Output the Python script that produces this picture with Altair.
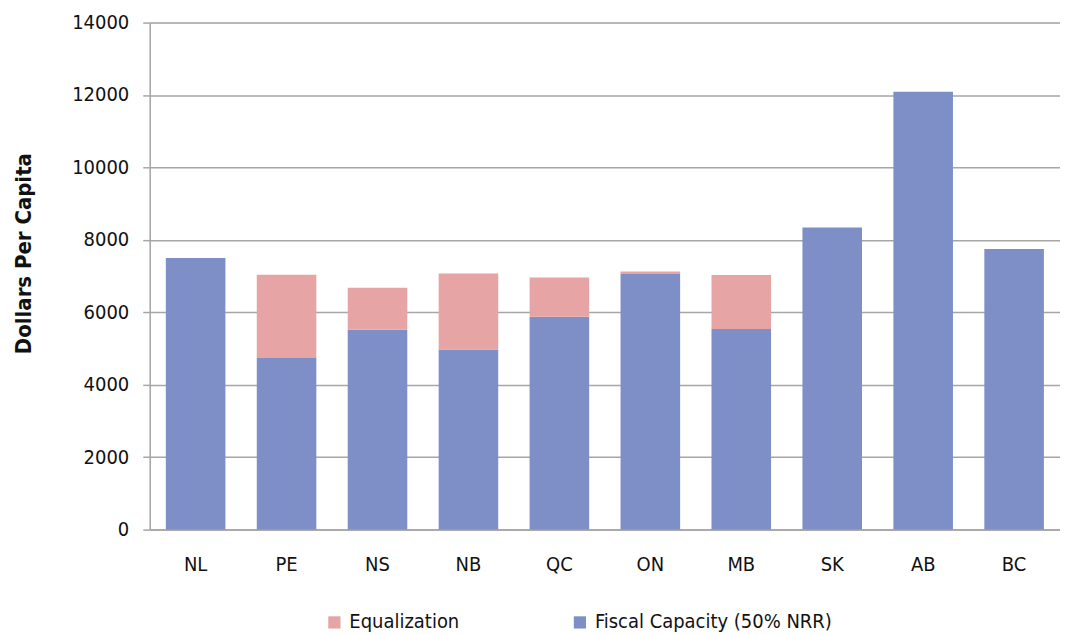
import altair as alt
import pandas as pd

provinces = ["NL", "PE", "NS", "NB", "QC", "ON", "MB", "SK", "AB", "BC"]
fiscal_capacity = [7500, 4740, 5520, 4970, 5880, 7060, 5540, 8340, 12090, 7750]
equalization = [0, 2300, 1160, 2100, 1080, 70, 1490, 0, 0, 0]

series_names = ["Equalization", "Fiscal Capacity (50% NRR)"]
series_colors = ["#e6a4a4", "#7d8fc6"]

rows = []
for p, f, e in zip(provinces, fiscal_capacity, equalization):
    rows.append({"prov": p, "series": series_names[1], "value": f, "order": 0})
    rows.append({"prov": p, "series": series_names[0], "value": e, "order": 1})
df = pd.DataFrame(rows)

FONT = "'DejaVu Sans Condensed', 'Liberation Sans Narrow', 'Roboto Condensed', 'Liberation Sans'"

chart = alt.Chart(df).mark_bar().encode(
    x=alt.X("prov:N", sort=provinces,
            scale=alt.Scale(paddingInner=0.345, paddingOuter=0.177),
            axis=alt.Axis(title=None, labelAngle=0, labelFontSize=20, labelFont=FONT,
                          labelColor="#111", labelPadding=25, ticks=False,
                          domainColor="#a6a6a6", domainWidth=1.5)),
    y=alt.Y("value:Q", stack="zero",
            scale=alt.Scale(domain=[0, 14000], nice=False),
            axis=alt.Axis(title="Dollars Per Capita", values=list(range(0, 14001, 2000)),
                          format="d",
                          titleFontSize=22, titleFont=FONT, titleFontWeight="bold",
                          titleColor="#111", titlePadding=14, titleY=231,
                          labelFontSize=20, labelFont=FONT, labelColor="#111",
                          labelPadding=14, tickSize=7, tickColor="#a6a6a6", tickWidth=1.5,
                          gridColor="#a6a6a6", gridWidth=1.5,
                          domainColor="#a6a6a6", domainWidth=1.5,
                          minExtent=100, maxExtent=100)),
    color=alt.Color("series:N", sort=series_names,
                    scale=alt.Scale(domain=series_names, range=series_colors),
                    legend=alt.Legend(title=None, orient="none", direction="horizontal",
                                      legendX=175, legendY=591,
                                      labelFontSize=20, labelFont=FONT, labelColor="#111",
                                      labelLimit=400,
                                      symbolType="square", symbolSize=150, symbolStrokeWidth=0,
                                      columnPadding=110, labelOffset=5)),
    order=alt.Order("order:Q"),
).properties(
    width=912, height=508,
).configure_view(stroke=None).configure(padding={"left": 5, "top": 4, "right": 0, "bottom": 5})

chart.save("out.html", embed_options={"renderer": "svg", "actions": False})
